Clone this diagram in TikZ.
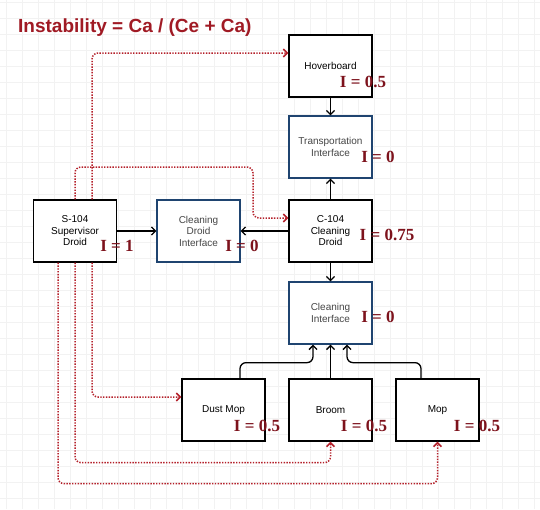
\documentclass[tikz,border=0pt]{standalone}
\usepackage{fontspec}
\setmainfont{Liberation Sans}
\newfontfamily\ifont{Liberation Serif}
\usetikzlibrary{arrows.meta}

\definecolor{titlered}{RGB}{160,26,36}
\definecolor{ired}{RGB}{125,18,28}
\definecolor{depred}{RGB}{180,32,42}
\definecolor{boxblue}{RGB}{31,68,112}
\definecolor{textgray}{RGB}{70,70,70}

\begin{document}
\begin{tikzpicture}[
  x=1pt, y=-1pt,
  box/.style={draw=black, fill=white, line width=1.3pt, minimum width=83pt, minimum height=62pt, inner sep=2pt, align=center, font=\fontsize{10}{11.5}\selectfont},
  ibox/.style={box, draw=boxblue, text=textgray},
  ival/.style={anchor=base, text=ired, inner sep=0pt, font=\ifont\bfseries\fontsize{17}{17}\selectfont},
  uses/.style={-{Straight Barb[length=4pt,width=8pt]}, line width=1.3pt, rounded corners=6pt},
  dep/.style={uses, draw=depred, line width=1.5pt, dash pattern=on 1.4pt off 1.4pt},
  gridline/.style={draw=gray!10, line width=0.6pt}
]
  \useasboundingbox (0,0) rectangle (540,509);
  \fill[white] (0,0) rectangle (540,509);

  % Hintergrundraster
  \foreach \gx in {6,22,...,534} \draw[gridline] (\gx,0) -- (\gx,509);
  \foreach \gy in {2,18,...,508} \draw[gridline] (0,\gy) -- (540,\gy);

  \node[anchor=base west, inner sep=0pt, text=titlered, font=\bfseries\fontsize{19}{20}\selectfont] (title) at (18,32) {Instability = Ca / (Ce + Ca)};

  % Klassen und Interfaces
  \node[box]  (hover) at (330.5,66)  {Hoverboard};
  \node[ibox] (trans) at (330.5,147) {Transportation\\Interface};
  \node[box]  (c104)  at (330.5,231) {C-104\\Cleaning\\Droid};
  \node[ibox] (ci)    at (330.5,313) {Cleaning\\Interface};
  \node[box]  (s104)  at (75,231)    {S-104\\Supervisor\\Droid};
  \node[ibox] (cdi)   at (198.5,231) {Cleaning\\Droid\\Interface};
  \node[box]  (dust)  at (223.5,410) {Dust Mop};
  \node[box]  (broom) at (330.5,410) {Broom};
  \node[box]  (mop)   at (437.5,410) {Mop};

  % Abhaengigkeiten
  \draw[uses] (hover) -- (trans);
  \draw[uses] (c104) -- (trans);
  \draw[uses] (c104) -- (ci);
  \draw[uses] (s104) -- (cdi);
  \draw[uses] (c104) -- (cdi);
  \draw[uses] (broom) -- (ci);
  \draw[uses] ([xshift=16.5pt]dust.north) |- ([xshift=-17.5pt,yshift=-18pt]ci.south) -- ([xshift=-17.5pt]ci.south);
  \draw[uses] ([xshift=-16.5pt]mop.north) |- ([xshift=16.5pt,yshift=-18pt]ci.south) -- ([xshift=16.5pt]ci.south);

  % Aufrufe vom Supervisor
  \coordinate (bend) at (253,167);
  \draw[dep] ([xshift=17pt]s104.north) |- ([yshift=13pt]hover.west);
  \draw[dep] (s104.north) |- (bend) |- ([yshift=13pt]c104.west);
  \draw[dep] ([xshift=17pt]s104.south) |- ([yshift=13pt]dust.west);
  \draw[dep] (s104.south) |- ([yshift=-21pt]broom.south) -- (broom.south);
  \draw[dep] ([xshift=-17pt]s104.south) |- ([yshift=-42pt]mop.south) -- (mop.south);

  % Instabilitaet
  \node[ival] (ihover) at (363,87)  {I = 0.5};
  \node[ival] (itrans) at (378,162) {I = 0};
  \node[ival] (ic104)  at (387,240) {I = 0.75};
  \node[ival] (ici)    at (378,322) {I = 0};
  \node[ival] (is104)  at (117,251) {I = 1};
  \node[ival] (icdi)   at (242,251) {I = 0};
  \node[ival] (idust)  at (257,431) {I = 0.5};
  \node[ival] (ibroom) at (364,431) {I = 0.5};
  \node[ival] (imop)   at (477,431) {I = 0.5};
\end{tikzpicture}
\end{document}
